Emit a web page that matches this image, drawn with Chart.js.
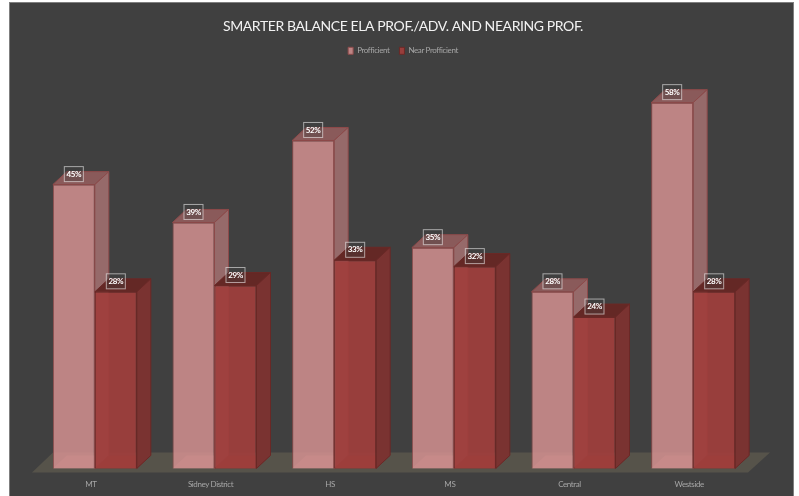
<!DOCTYPE html>
<html>
<head>
<meta charset="utf-8">
<style>
html, body { margin: 0; padding: 0; background: #fff; }
canvas { display: block; }
</style>
<script src="https://cdn.jsdelivr.net/npm/chart.js@4/dist/chart.umd.min.js"></script>
</head>
<body>
<canvas id="myChart" width="799" height="496"></canvas>
<script>
var categories = ['MT', 'Sidney District', 'HS', 'MS', 'Central', 'Westside'];
var proficient = [45, 39, 52, 35, 28, 58];
var nearProficient = [28, 29, 33, 32, 24, 28];

var depthX = 14;
var depthY = 13;

// top, side and bottom faces for each series
var faces = [
    ['#8a5a5a', '#966a6a', 'rgba(189, 133, 132, 0.4)'],
    ['#642825', '#7a3331', 'rgba(140, 56, 54, 0.7)']
];
var edges = ['#8d4a4a', '#6a2826'];

function poly(ctx, pts, fill, stroke) {
    ctx.beginPath();
    ctx.moveTo(pts[0][0], pts[0][1]);
    for (let i = 1; i < pts.length; i++) {
        ctx.lineTo(pts[i][0], pts[i][1]);
    }
    ctx.closePath();
    ctx.fillStyle = fill;
    ctx.fill();
    if (stroke) {
        ctx.strokeStyle = stroke;
        ctx.lineWidth = 1;
        ctx.stroke();
    }
}

var fake3d = {
    id: 'fake3d',
    beforeLayout: function (chart) {
        // the original font is narrower than Lato
        chart.ctx.letterSpacing = '-0.4px';
    },
    afterLayout: function (chart) {
        // title and legend sit a little right of the plot centre
        chart.titleBlock.left += 9;
        chart.titleBlock.right += 9;
        chart.legend.left += 9;
        chart.legend.right += 9;
    },
    beforeDraw: function (chart) {
        let ctx = chart.ctx;
        ctx.letterSpacing = '-0.4px';
        ctx.fillStyle = '#7f7f7f';
        ctx.fillRect(9, 2, 785, 494);
        ctx.fillStyle = '#404040';
        ctx.fillRect(10, 3, 783, 493);
    },
    beforeDatasetsDraw: function (chart) {
        // floor under the bars
        let a = chart.chartArea;
        poly(chart.ctx, [
            [a.left - 3, a.bottom + 4],
            [a.left + 18, a.bottom - 16],
            [a.right + 17, a.bottom - 16],
            [a.right - 5, a.bottom + 4]
        ], '#56534a');
    },
    beforeDatasetDraw: function () {
        return false;
    },
    afterDatasetsDraw: function (chart) {
        let ctx = chart.ctx;
        // series are painted left to right so the dark bar covers the light side
        chart.data.datasets.forEach(function (ds, d) {
            let meta = chart.getDatasetMeta(d);
            meta.data.forEach(function (bar) {
                let p = bar.getProps(['x', 'y', 'base', 'width'], true);
                let l = p.x - p.width / 2;
                let r = p.x + p.width / 2;
                poly(ctx, [[l, p.base], [l + depthX, p.base - depthY], [r + depthX, p.base - depthY], [r, p.base]], faces[d][2]);
                poly(ctx, [[l, p.y], [l + depthX, p.y - depthY], [r + depthX, p.y - depthY], [r, p.y]], faces[d][0], edges[d]);
                poly(ctx, [[r, p.y], [r + depthX, p.y - depthY], [r + depthX, p.base - depthY], [r, p.base]], faces[d][1], edges[d]);
            });
            meta.controller.draw();
        });

        // value labels
        chart.data.datasets.forEach(function (ds, d) {
            chart.getDatasetMeta(d).data.forEach(function (bar, i) {
                let cx = bar.x;
                let cy = bar.y - 10.5;
                ctx.fillStyle = 'rgba(64, 64, 64, 0.35)';
                ctx.fillRect(cx - 9.5, cy - 7.5, 19, 15);
                ctx.strokeStyle = 'rgba(255, 255, 255, 0.55)';
                ctx.lineWidth = 1;
                ctx.strokeRect(cx - 9.5, cy - 7.5, 19, 15);
                ctx.fillStyle = '#ffffff';
                ctx.font = 'bold 8px Lato';
                ctx.textAlign = 'center';
                ctx.textBaseline = 'middle';
                ctx.fillText(ds.data[i] + '%', cx, cy);
            });
        });
    }
};

var ctx = document.getElementById('myChart');
var myChart = new Chart(ctx, {
    type: 'bar',
    data: {
        labels: categories,
        datasets: [{
            label: 'Profficient',
            data: proficient,
            backgroundColor: 'rgba(211, 145, 144, 0.85)',
            borderColor: '#8d4a4a',
            borderWidth: 1
        }, {
            label: 'Near Profficient',
            data: nearProficient,
            backgroundColor: 'rgba(159, 62, 60, 0.92)',
            borderColor: '#6a2826',
            borderWidth: 1
        }]
    },
    plugins: [fake3d],
    options: {
        responsive: false,
        animation: false,
        categoryPercentage: 0.702,
        barPercentage: 1,
        layout: {
            padding: { left: 35, right: 46, top: 0, bottom: 4 }
        },
        plugins: {
            title: {
                display: true,
                text: 'SMARTER BALANCE ELA PROF./ADV. AND NEARING PROF.',
                color: '#f2f2f2',
                font: { family: 'Lato', size: 14, weight: 'normal' },
                padding: { top: 18, bottom: 2 }
            },
            legend: {
                display: true,
                position: 'top',
                labels: {
                    color: '#a6a6a6',
                    font: { family: 'Lato', size: 8 },
                    boxWidth: 5,
                    boxHeight: 7,
                    padding: 10
                }
            },
            tooltip: { enabled: false }
        },
        scales: {
            x: {
                grid: { display: false },
                border: { display: false },
                ticks: {
                    color: '#a6a6a6',
                    font: { family: 'Lato', size: 8 },
                    labelOffset: -4,
                    padding: 3,
                    maxRotation: 0,
                    autoSkip: false
                }
            },
            y: {
                display: false,
                min: 0,
                max: 64
            }
        }
    }
});
</script>
</body>
</html>
